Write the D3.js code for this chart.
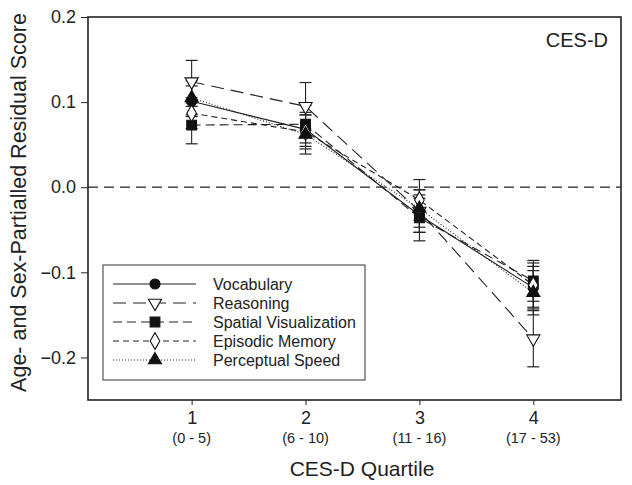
<!DOCTYPE html>
<html>
<head>
<meta charset="utf-8">
<script src="https://cdn.jsdelivr.net/npm/d3@7"></script>
<style>
  body { margin: 0; background: #fff; }
  svg text { font-family: "Liberation Sans", Arial, sans-serif; fill: #222; }
</style>
</head>
<body>
<script>
// data
const quartiles = [1, 2, 3, 4];
const ranges = ["(0 - 5)", "(6 - 10)", "(11 - 16)", "(17 - 53)"];
const seriesNames = ["Vocabulary", "Reasoning", "Spatial Visualization", "Episodic Memory", "Perceptual Speed"];

const vocabulary = [0.101, 0.068, -0.033, -0.118];
const vocabularyErr = [0.018, 0.020, 0.020, 0.025];
const reasoning = [0.124, 0.095, -0.028, -0.178];
const reasoningErr = [0.025, 0.028, 0.025, 0.033];
const spatial = [0.073, 0.074, -0.036, -0.110];
const spatialErr = [0.022, 0.022, 0.027, 0.024];
const episodic = [0.087, 0.065, -0.015, -0.115];
const episodicErr = [0.018, 0.020, 0.024, 0.026];
const perceptual = [0.105, 0.062, -0.025, -0.124];
const perceptualErr = [0.020, 0.023, 0.022, 0.026];

const yTicks = [0.2, 0.1, 0.0, -0.1, -0.2];

const series = [
  {name: seriesNames[0], vals: vocabulary, err: vocabularyErr, dash: null, marker: "circle", fill: "#111"},
  {name: seriesNames[1], vals: reasoning, err: reasoningErr, dash: "13,7", marker: "triangleDown", fill: "#fff"},
  {name: seriesNames[2], vals: spatial, err: spatialErr, dash: "9,5", marker: "square", fill: "#111"},
  {name: seriesNames[3], vals: episodic, err: episodicErr, dash: "6,4", marker: "diamond", fill: "#fff"},
  {name: seriesNames[4], vals: perceptual, err: perceptualErr, dash: "1,2", marker: "triangle", fill: "#111"}
];

const W = 632, H = 485;
const pLeft = 88, pRight = 621, pTop = 17, pBottom = 400;

const svg = d3.select("body").append("svg")
    .attr("width", W)
    .attr("height", H);

const x = d3.scaleLinear().domain([0.09, 4.77]).range([pLeft, pRight]);
const y = d3.scaleLinear().domain([-0.25, 0.2]).range([pBottom, pTop]);

// zero reference line
svg.append("line")
    .attr("x1", pLeft).attr("x2", pRight)
    .attr("y1", y(0)).attr("y2", y(0))
    .attr("stroke", "#222").attr("stroke-width", 1.3)
    .attr("stroke-dasharray", "10,6");

// frame
svg.append("rect")
    .attr("x", pLeft).attr("y", pTop)
    .attr("width", pRight - pLeft).attr("height", pBottom - pTop)
    .attr("fill", "none").attr("stroke", "#222").attr("stroke-width", 1.6);

// axes
const yAxis = d3.axisLeft(y).tickValues(yTicks).tickFormat(d3.format(".1f")).tickSize(7).tickPadding(5);
const gy = svg.append("g").attr("transform", `translate(${pLeft},0)`).call(yAxis);
gy.select(".domain").remove();
gy.selectAll("text").style("font-size", "18px").text(d => d === 0 ? "0.0" : d3.format(".1f")(d));
gy.selectAll("line").attr("stroke", "#222");

const xAxis = d3.axisBottom(x).tickValues(quartiles).tickFormat(d3.format("d")).tickSize(5).tickPadding(6);
const gx = svg.append("g").attr("transform", `translate(0,${pBottom})`).call(xAxis);
gx.select(".domain").remove();
gx.selectAll("text").style("font-size", "18px");
gx.selectAll("line").attr("stroke", "#222");

svg.selectAll(".range")
    .data(quartiles)
    .enter()
    .append("text")
    .attr("class", "range")
    .attr("x", d => x(d))
    .attr("y", 443)
    .attr("text-anchor", "middle")
    .style("font-size", "14.5px")
    .text((d, i) => ranges[i]);

svg.append("text")
    .attr("x", 362)
    .attr("y", 476)
    .attr("text-anchor", "middle")
    .style("font-size", "21px")
    .text("CES-D Quartile");

svg.append("text")
    .attr("transform", `translate(26,${(pTop + pBottom) / 2 - 6}) rotate(-90)`)
    .attr("text-anchor", "middle")
    .style("font-size", "21.5px")
    .text("Age- and Sex-Partialled Residual Score");

svg.append("text")
    .attr("x", 608)
    .attr("y", 47)
    .attr("text-anchor", "end")
    .style("font-size", "20px")
    .text("CES-D");

// markers
const symbolFor = {
  circle: d3.symbol().type(d3.symbolCircle).size(80),
  triangle: d3.symbol().type(d3.symbolTriangle).size(75),
  triangleDown: d3.symbol().type(d3.symbolTriangle).size(75),
  square: d3.symbol().type(d3.symbolSquare).size(95),
  diamond: d3.symbol().type(d3.symbolDiamond).size(80)
};
function drawMarker(g, s, cx, cy) {
  const rot = s.marker === "triangleDown" ? " rotate(180)" : "";
  g.append("path")
      .attr("d", symbolFor[s.marker]())
      .attr("transform", `translate(${cx},${cy})${rot}`)
      .attr("fill", s.fill)
      .attr("stroke", "#111")
      .attr("stroke-width", 1.1);
}

const line = d3.line()
    .x((d, i) => x(quartiles[i]))
    .y(d => y(d));

const plot = svg.append("g");

// lines
series.forEach(s => {
  plot.append("path")
      .datum(s.vals)
      .attr("d", line)
      .attr("fill", "none")
      .attr("stroke", "#222")
      .attr("stroke-width", 1.1)
      .attr("stroke-dasharray", s.dash);
});

// error bars
series.forEach(s => {
  const g = plot.append("g");
  s.vals.forEach((v, i) => {
    const cx = x(quartiles[i]);
    g.append("line")
        .attr("x1", cx).attr("x2", cx)
        .attr("y1", y(v + s.err[i])).attr("y2", y(v - s.err[i]))
        .attr("stroke", "#222").attr("stroke-width", 1.1);
    [v + s.err[i], v - s.err[i]].forEach(e => {
      g.append("line")
          .attr("x1", cx - 6).attr("x2", cx + 6)
          .attr("y1", y(e)).attr("y2", y(e))
          .attr("stroke", "#222").attr("stroke-width", 1.2);
    });
  });
});

// points
series.forEach(s => {
  const g = plot.append("g");
  s.vals.forEach((v, i) => drawMarker(g, s, x(quartiles[i]), y(v)));
});

// legend
const legend = svg.append("g");
legend.append("rect")
    .attr("x", 103).attr("y", 265)
    .attr("width", 262).attr("height", 115)
    .attr("fill", "#fff").attr("stroke", "#333").attr("stroke-width", 1);

series.forEach((s, i) => {
  const ly = 284 + i * 19;
  legend.append("line")
      .attr("x1", 113).attr("x2", 196)
      .attr("y1", ly).attr("y2", ly)
      .attr("stroke", "#222").attr("stroke-width", 1.1)
      .attr("stroke-dasharray", s.dash);
  drawMarker(legend, s, 155, ly);
  legend.append("text")
      .attr("x", 213)
      .attr("y", ly + 5.5)
      .style("font-size", "16px")
      .text(s.name);
});
</script>
</body>
</html>
